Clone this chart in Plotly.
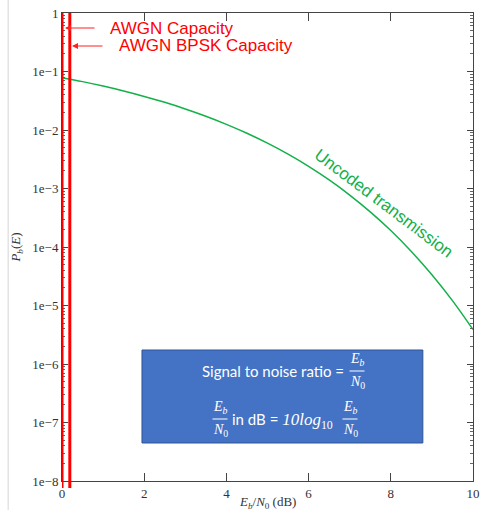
import plotly.graph_objects as go

# Data
ebn0_db = [0, 0.5, 1, 1.5, 2, 2.5, 3, 3.5, 4, 4.5, 5, 5.5, 6, 6.5, 7, 7.5, 8, 8.5, 9, 9.5, 10]
pb_uncoded = [7.86e-2, 6.71e-2, 5.63e-2, 4.64e-2, 3.75e-2, 2.97e-2, 2.29e-2, 1.72e-2,
              1.25e-2, 8.8e-3, 5.95e-3, 3.86e-3, 2.39e-3, 1.40e-3, 7.73e-4, 3.99e-4,
              1.91e-4, 8.4e-5, 3.36e-5, 1.21e-5, 3.87e-6]
capacity_db = [0.0, 0.19]
capacity_labels = ["AWGN Capacity", "AWGN BPSK Capacity"]
ytick_vals = [1e-8, 1e-7, 1e-6, 1e-5, 1e-4, 1e-3, 1e-2, 1e-1, 1]
ytick_text = ["1e\u22128", "1e\u22127", "1e\u22126", "1e\u22125", "1e\u22124",
              "1e\u22123", "1e\u22122", "1e\u22121", "1"]
xtick_vals = [0, 2, 4, 6, 8, 10]

minor_vals = [m * v for v in ytick_vals[:-1] for m in range(2, 10)]

SERIF = "Liberation Serif"
fig = go.Figure()
fig.add_trace(go.Scatter(x=ebn0_db, y=pb_uncoded, mode="lines",
                         line=dict(color="#14b04a", width=1.5, shape="spline"),
                         showlegend=False, hoverinfo="skip"))

shapes = []
for xv in capacity_db:
    shapes.append(dict(type="line", xref="x", yref="paper", x0=xv, x1=xv, y0=-0.015, y1=1,
                       line=dict(color="#ff0000", width=3), layer="above"))
# slide border line
shapes.append(dict(type="line", xref="paper", yref="paper", x0=-0.131, x1=-0.131,
                   y0=-0.07, y1=1.04, line=dict(color="#d6d6d6", width=1)))
# blue box
shapes.append(dict(type="rect", xref="paper", yref="paper", x0=0.1946, x1=0.878,
                   y0=0.0812, y1=0.2799, fillcolor="#4472c4",
                   line=dict(color="#2f5597", width=1), layer="above"))


def px(xp):
    return (xp - 62) / 411


def py(yp):
    return (481 - yp) / 468


annotations = []
# capacity labels with arrows
label_py = [28, 46]
label_x_px = [108, 117]
tip_px = [65, 72]
tail_px = [96, 104]
for lab, ly, lx, tp, tl in zip(capacity_labels, label_py, label_x_px, tip_px, tail_px):
    annotations.append(dict(x=px(tp), y=py(ly), xref="paper", yref="paper", text=" ",
                            font=dict(size=1),
                            showarrow=True, ax=tl - tp, ay=0,
                            arrowhead=2, arrowsize=1.2,
                            arrowwidth=1, arrowcolor="#ff2020", standoff=0, startstandoff=0))
    annotations.append(dict(x=px(lx), y=py(ly), xref="paper", yref="paper", text=lab,
                            showarrow=False, xanchor="left", yanchor="middle",
                            font=dict(family="Liberation Sans", size=17, color="#ff0000")))

annotations.append(dict(x=px(384), y=py(203), xref="paper", yref="paper",
                        text="Uncoded transmission", showarrow=False, textangle=37,
                        xanchor="center", yanchor="middle",
                        font=dict(family="Liberation Sans", size=17, color="#14b04a")))

# x-axis title
annotations.append(dict(x=0.5, y=py(502), xref="paper", yref="paper",
                        text="<i>E<sub>b</sub></i>/<i>N</i><sub>0</sub> (dB)", showarrow=False,
                        xanchor="center", yanchor="middle",
                        font=dict(family=SERIF, size=13, color="#333")))

WF = dict(family="Lato", size=15, color="white")
MF = dict(family=SERIF, size=14, color="white")


def fraction(cx, ybar, w=15):
    annotations.append(dict(x=px(cx), y=py(ybar - 1), xref="paper", yref="paper",
                            text="<i>E<sub>b</sub></i>", showarrow=False,
                            xanchor="center", yanchor="bottom", font=MF))
    annotations.append(dict(x=px(cx), y=py(ybar + 1), xref="paper", yref="paper",
                            text="<i>N</i><sub>0</sub>", showarrow=False,
                            xanchor="center", yanchor="top", font=MF))
    shapes.append(dict(type="line", xref="paper", yref="paper", x0=px(cx - w / 2),
                       x1=px(cx + w / 2), y0=py(ybar), y1=py(ybar),
                       line=dict(color="white", width=1), layer="above"))


annotations.append(dict(x=px(346), y=py(371), xref="paper", yref="paper",
                        text="Signal to noise ratio =", showarrow=False,
                        xanchor="right", yanchor="middle", font=WF))
fraction(357, 371)
fraction(220, 419)
annotations.append(dict(x=px(230), y=py(421), xref="paper", yref="paper",
                        text="in dB = <span style=\"font-family:Liberation Serif;font-size:17px\"><i>10log</i><sub>10</sub></span>",
                        showarrow=False, xanchor="left", yanchor="middle", font=WF))
fraction(350, 419)

fig.update_layout(
    width=482, height=510,
    margin=dict(l=62, r=9, t=13, b=29, autoexpand=False),
    paper_bgcolor="white", plot_bgcolor="white",
    shapes=shapes, annotations=annotations,
    xaxis=dict(range=[0, 10], tickvals=xtick_vals, ticks="inside", ticklen=8,
               showline=True, linecolor="#444", linewidth=1, mirror="allticks",
               showgrid=False, zeroline=False, automargin=False,
               tickfont=dict(family=SERIF, size=13, color="#333")),
    yaxis=dict(type="log", range=[-8, 0], tickvals=ytick_vals, ticktext=ytick_text,
               ticks="inside", ticklen=6, showline=True, linecolor="#444", linewidth=1,
               mirror="allticks", showgrid=False, zeroline=False, automargin=False,
               minor=dict(tickvals=minor_vals, ticks="inside", ticklen=3, tickcolor="#666"),
               tickfont=dict(family=SERIF, size=13, color="#333"),
               title=dict(text="<i>P<sub>b</sub></i>(<i>E</i>)",
                          font=dict(family=SERIF, size=13, color="#333"), standoff=8)),
)

fig.write_html("out.html")
